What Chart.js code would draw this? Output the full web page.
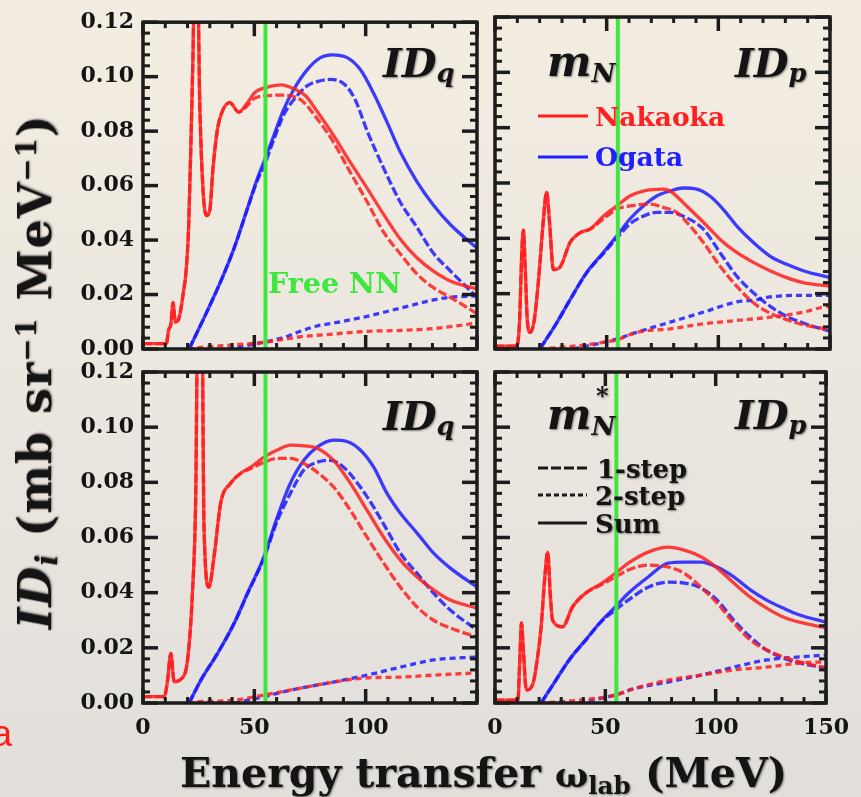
<!DOCTYPE html>
<html>
<head>
<meta charset="utf-8">
<script src="https://cdn.jsdelivr.net/npm/chart.js@4.4.1/dist/chart.umd.min.js"></script>
<style>
body { margin: 0; }
#page {
    position: relative; width: 861px; height: 797px; overflow: hidden;
    background: linear-gradient(#f3ede1, #ece7df 45%, #e2deda);
    font-family: 'DejaVu Serif', serif; font-weight: bold; color: #141414;
}
canvas { position: absolute; left: 0; top: 0; }
.t { position: absolute; white-space: nowrap; line-height: 1; text-shadow: 1px 1px 2px rgba(0,0,0,0.45); }
.sb { position: relative; font-size: 0.64em; top: 0.2em; font-style: italic; }
.up { position: relative; font-size: 0.6em; top: -0.55em; }
</style>
</head>
<body>
<div id="page">
    <canvas id="c1" width="861" height="797"></canvas>
    <canvas id="c2" width="861" height="797"></canvas>
    <canvas id="c3" width="861" height="797"></canvas>
    <canvas id="c4" width="861" height="797"></canvas>

    <div class="t" style="left:268px;top:269px;font-size:28.5px;color:#3ee63e;text-shadow:none">Free NN</div>

    <div class="t" style="left:383px;top:43px;font-size:40px"><i>ID</i><span class="sb">q</span></div>
    <div class="t" style="left:735px;top:43px;font-size:40px"><i>ID</i><span class="sb">p</span></div>
    <div class="t" style="left:383px;top:396px;font-size:40px"><i>ID</i><span class="sb">q</span></div>
    <div class="t" style="left:735px;top:395px;font-size:40px"><i>ID</i><span class="sb">p</span></div>

    <div class="t" style="left:547px;top:41px;font-size:42px"><i>m</i><span class="sb" style="font-size:0.62em;top:0.22em">N</span></div>
    <div class="t" style="left:547px;top:394px;font-size:42px"><i>m</i><span class="sb" style="font-size:0.62em;top:0.22em">N</span></div>
    <div class="t" style="left:596px;top:384px;font-size:24px">*</div>

    <div class="t" style="left:595px;top:104px;font-size:26.5px;color:#ff2020;text-shadow:none">Nakaoka</div>
    <div class="t" style="left:595px;top:144px;font-size:26.5px;color:#2020ff;text-shadow:none">Ogata</div>

    <div class="t" style="left:597px;top:456px;font-size:26px">1-step</div>
    <div class="t" style="left:595px;top:483px;font-size:26px">2-step</div>
    <div class="t" style="left:595px;top:511px;font-size:26px">Sum</div>

    <div class="t" style="left:35px;top:372px;font-size:46px;letter-spacing:1px;transform:translate(-50%,-50%) rotate(-90deg)"><i>ID</i><span class="sb">i</span> (mb sr<span class="up">−1</span> MeV<span class="up">−1</span>)</div>
    <div class="t" style="left:180px;top:753px;font-size:41px">Energy transfer <span style="font-size:0.85em">ω</span><span class="sb" style="font-style:normal;font-size:0.6em;top:0.3em">lab</span> (MeV)</div>

    <div class="t" style="left:-8px;top:716px;font-size:36px;font-family:'Liberation Sans',sans-serif;font-weight:normal;color:#ff1a1a;text-shadow:none">a</div>
</div>

<script>
// x: energy transfer (MeV), y: ID_i (mb sr^-1 MeV^-1)
const xMin = 0, xMax = 150;
const yMin = 0, yMax = 0.12;
const xTickStep = 50;
const yTickStep = 0.02;
const freeNN = 55;

// m_N, ID_q  (Nakaoka / Ogata : sum, 1-step, 2-step)
const qNakSum = [[0,0.002],[10.5,0.002],[11.5,0.007],[12.5,0.009],[13.5,0.017],[14.5,0.010],[16,0.011],[18,0.020],[19.5,0.030],[20.5,0.045],[21.5,0.075],[22.5,0.110],[23,0.135],[24.5,0.135],[25.5,0.090],[27,0.058],[28.5,0.049],[30,0.051],[31.5,0.067],[33.5,0.081],[36,0.088],[39,0.0905],[43,0.087],[47,0.0905],[50,0.094],[55,0.096],[62,0.097],[68,0.0955],[73,0.093],[78.4,0.087],[85.5,0.0785],[93,0.0687],[100.7,0.059],[108,0.0495],[115.5,0.0404],[123,0.0335],[130.3,0.0287],[138,0.025],[150,0.022]];
const qNakOne = [[0,0.002],[10.5,0.002],[11.5,0.007],[12.5,0.009],[13.5,0.017],[14.5,0.010],[16,0.011],[18,0.020],[19.5,0.030],[20.5,0.045],[21.5,0.075],[22.5,0.110],[23,0.135],[24.5,0.135],[25.5,0.090],[27,0.058],[28.5,0.049],[30,0.051],[31.5,0.067],[33.5,0.081],[36,0.088],[39,0.0905],[43,0.087],[47,0.0895],[50,0.092],[55,0.093],[62,0.0932],[70.7,0.0916],[78.4,0.0844],[85.5,0.076],[93,0.065],[100.7,0.054],[108,0.043],[115.5,0.035],[123,0.0276],[130.3,0.0226],[138,0.019],[150,0.013]];
const qNakTwo = [[20,0],[25,0.0005],[40,0.0015],[55,0.0025],[70.7,0.0045],[85.5,0.0055],[100.7,0.0065],[115.5,0.0068],[130.3,0.0075],[150,0.0095]];
const qOgaSum = [[20.7,0],[29,0.0142],[35,0.025],[40.9,0.037],[46.9,0.0517],[51.4,0.0627],[54.3,0.0687],[58.8,0.0785],[63.2,0.088],[67.7,0.0953],[73.8,0.1026],[79.7,0.107],[85,0.108],[91.7,0.107],[97.6,0.1026],[103.5,0.094],[109.6,0.0833],[115.5,0.0724],[123,0.0615],[130.3,0.053],[137.9,0.0458],[150,0.037]];
const qOgaOne = [[20.7,0],[29,0.0142],[35,0.025],[40.9,0.037],[46.9,0.0515],[51.4,0.062],[54.3,0.067],[58.8,0.077],[63.2,0.086],[67.7,0.0915],[73.8,0.0967],[79.7,0.0985],[84.5,0.099],[90.7,0.097],[95.2,0.0917],[100.7,0.080],[108,0.0665],[115.5,0.054],[123,0.0447],[130.3,0.0353],[138,0.0287],[150,0.019]];
const qOgaTwo = [[38,0],[54.3,0.0025],[63.2,0.0042],[70.7,0.0065],[78.4,0.0085],[85.5,0.0095],[100.7,0.012],[115.5,0.015],[130.3,0.018],[138,0.019],[150,0.0195]];

// m_N, ID_p
const pNakSum = [[0,0.001],[9.7,0.001],[11,0.010],[12,0.035],[12.7,0.043],[13.5,0.030],[14.5,0.010],[15.7,0.006],[17.5,0.010],[19.5,0.025],[21.5,0.045],[23.1,0.0567],[24.5,0.045],[26.1,0.0287],[29,0.0295],[33.6,0.0385],[38,0.042],[42.5,0.0433],[48.5,0.048],[54.5,0.0517],[60.4,0.0553],[66.4,0.0571],[75.4,0.0578],[78.4,0.0571],[85.8,0.0517],[93.3,0.0458],[100.7,0.0397],[108.2,0.0349],[115.7,0.0313],[123.1,0.0283],[130.6,0.0258],[138,0.024],[150,0.0227]];
const pNakOne = [[0,0.001],[9.7,0.001],[11,0.010],[12,0.035],[12.7,0.043],[13.5,0.030],[14.5,0.010],[15.7,0.006],[17.5,0.010],[19.5,0.025],[21.5,0.045],[23.1,0.0567],[24.5,0.045],[26.1,0.0287],[29,0.0295],[33.6,0.0385],[38,0.042],[42.5,0.0433],[48.5,0.047],[54.5,0.0505],[60.4,0.0517],[69.4,0.0524],[75.4,0.0512],[81.3,0.0494],[87.3,0.0445],[93.3,0.0385],[100.7,0.030],[108.2,0.0227],[115.7,0.0167],[123.1,0.013],[130.6,0.0106],[138,0.0088],[150,0.007]];
const pNakTwo = [[20,0],[35,0.001],[48.5,0.0024],[54.5,0.0033],[63.4,0.006],[78.4,0.0073],[93.3,0.0091],[108.2,0.0103],[123.1,0.0115],[138,0.0133],[147,0.0152],[150,0.0155]];
const pOgaSum = [[20.1,0],[27.6,0.0094],[33.6,0.0178],[41,0.0276],[48.5,0.0349],[54.5,0.0408],[60.4,0.047],[66.4,0.0517],[72.4,0.0553],[78.4,0.0571],[84.3,0.0582],[90.3,0.0578],[96.2,0.0553],[102.2,0.0505],[108.2,0.0445],[115.7,0.0385],[123.1,0.0336],[130.6,0.0306],[138,0.0283],[150,0.0258]];
const pOgaOne = [[20.1,0],[27.6,0.0094],[33.6,0.0178],[41,0.0275],[48.5,0.0345],[54.5,0.040],[60.4,0.0452],[66.4,0.048],[72.4,0.0494],[78.4,0.0494],[84.3,0.048],[93.3,0.0433],[100.7,0.0349],[108.2,0.0264],[115.7,0.0203],[123.1,0.0155],[130.6,0.0118],[138,0.0094],[150,0.0064]];
const pOgaTwo = [[35,0],[54.5,0.0036],[63.4,0.006],[78.4,0.0097],[93.3,0.0133],[108.2,0.017],[115.7,0.0176],[123.1,0.0188],[138,0.0194],[150,0.0194]];

// m*_N, ID_q
const qsNakSum = [[0,0.0023],[9.5,0.0023],[11,0.008],[12.5,0.018],[14,0.0077],[17.1,0.0087],[20,0.0156],[22.2,0.040],[23.7,0.076],[24.5,0.135],[26.5,0.135],[27.4,0.064],[29.6,0.042],[31.9,0.053],[34.9,0.0725],[39.4,0.0797],[43.9,0.0833],[48.4,0.0855],[54.3,0.0891],[60.3,0.0917],[66.2,0.0935],[73.7,0.0931],[78.2,0.0924],[85.6,0.088],[93.1,0.0797],[100.6,0.0699],[108.1,0.0601],[115.6,0.0518],[123.1,0.0457],[130.5,0.041],[138,0.0373],[150,0.0344]];
const qsNakOne = [[0,0.0023],[9.5,0.0023],[11,0.008],[12.5,0.018],[14,0.0077],[17.1,0.0087],[20,0.0156],[22.2,0.040],[23.7,0.076],[24.5,0.135],[26.5,0.135],[27.4,0.064],[29.6,0.042],[31.9,0.053],[34.9,0.0725],[39.4,0.0797],[43.9,0.0833],[48.4,0.085],[54.3,0.0873],[60.3,0.0887],[66.2,0.0887],[73.7,0.0862],[78.2,0.0837],[85.6,0.0783],[93.1,0.0699],[100.6,0.0601],[108.1,0.0507],[115.6,0.042],[123.1,0.0348],[130.5,0.030],[138,0.0272],[150,0.0239]];
const qsNakTwo = [[20,0],[25.6,0.0005],[40.5,0.001],[54.3,0.0029],[70.8,0.0054],[85.6,0.0076],[100.6,0.0091],[115.6,0.0094],[130.5,0.0101],[150,0.0109]];
const qsOgaSum = [[20.7,0],[26,0.0083],[33.5,0.018],[41,0.029],[46.9,0.0398],[54.3,0.053],[60.3,0.0674],[66.2,0.0797],[72.2,0.088],[78.2,0.0928],[85.6,0.0953],[91.6,0.0948],[97.6,0.0917],[103.6,0.0855],[109.6,0.076],[115.6,0.0688],[123.1,0.0616],[130.5,0.0543],[138,0.0489],[150,0.042]];
const qsOgaOne = [[20.7,0],[26,0.0083],[33.5,0.018],[41,0.029],[46.9,0.0396],[54.3,0.0525],[60.3,0.066],[66.2,0.076],[72.2,0.0844],[78.2,0.0873],[84.1,0.088],[90.1,0.0855],[97.6,0.0783],[103.6,0.071],[109.6,0.0627],[115.6,0.0543],[123.1,0.047],[130.5,0.0398],[138,0.0337],[150,0.0264]];
const qsOgaTwo = [[41,0],[54.3,0.0023],[63.3,0.0041],[70.8,0.0054],[85.6,0.0076],[100.6,0.0101],[115.6,0.013],[130.5,0.0156],[150,0.0167]];

// m*_N, ID_p
const psNakSum = [[0,0.001],[10.4,0.001],[11.2,0.015],[12,0.029],[12.8,0.020],[14.2,0.0047],[17.2,0.007],[19,0.015],[20.9,0.0276],[22.5,0.045],[23.9,0.0547],[25,0.040],[26.1,0.030],[30.6,0.0276],[35.1,0.0348],[41,0.0398],[48.5,0.0435],[54.5,0.047],[60.4,0.0507],[69.4,0.0547],[78.4,0.0565],[85.8,0.0554],[93.3,0.053],[100.7,0.0489],[108.2,0.0435],[115.7,0.0384],[123.1,0.0344],[130.6,0.0312],[138,0.0293],[150,0.0272]];
const psNakOne = [[0,0.001],[10.4,0.001],[11.2,0.015],[12,0.029],[12.8,0.020],[14.2,0.0047],[17.2,0.007],[19,0.015],[20.9,0.0276],[22.5,0.045],[23.9,0.0547],[25,0.040],[26.1,0.030],[30.6,0.0276],[35.1,0.0348],[41,0.0398],[48.5,0.043],[54.5,0.0457],[60.4,0.0482],[69.4,0.050],[78.4,0.0493],[85.8,0.047],[93.3,0.042],[100.7,0.0362],[108.2,0.029],[115.7,0.0228],[123.1,0.0192],[130.6,0.0167],[138,0.0149],[150,0.0127]];
const psNakTwo = [[20,0],[35,0.0008],[54.5,0.0029],[63.4,0.0053],[78.4,0.0083],[93.3,0.0101],[108.2,0.012],[123.1,0.013],[138,0.0145],[150,0.0149]];
const psOgaSum = [[20.9,0],[27.6,0.0083],[33.6,0.0156],[41,0.0228],[48.5,0.030],[54.5,0.0348],[60.4,0.0398],[69.4,0.0457],[78.4,0.0507],[85.8,0.0511],[93.3,0.0511],[100.7,0.0493],[108.2,0.0457],[115.7,0.041],[123.1,0.0373],[130.6,0.0344],[138,0.0319],[150,0.0293]];
const psOgaOne = [[20.9,0],[27.6,0.0083],[33.6,0.0156],[41,0.0227],[48.5,0.0298],[54.5,0.0337],[60.4,0.0373],[69.4,0.042],[78.4,0.0438],[85.8,0.0435],[93.3,0.0417],[100.7,0.0373],[108.2,0.030],[115.7,0.0239],[123.1,0.0192],[130.6,0.0163],[138,0.0145],[150,0.0127]];
const psOgaTwo = [[38,0],[54.5,0.0029],[63.4,0.0053],[78.4,0.0076],[93.3,0.0101],[108.2,0.013],[123.1,0.0156],[138,0.0167],[150,0.0174]];

const colNak = 'rgba(255,30,30,0.85)';
const colOga = 'rgba(28,28,255,0.85)';
const colFree = '#3ee63e';
const dashOne = [9, 3];
const dashTwo = [6, 4];

// panel boxes: [left, top, right, bottom] in page pixels
const panels = [
    { id: 'c1', box: [143, 17, 477, 349], showX: false, showY: true, nak: [qNakSum, qNakOne, qNakTwo], oga: [qOgaSum, qOgaOne, qOgaTwo], keys: [] },
    { id: 'c2', box: [495, 17, 830, 349], showX: false, showY: false, nak: [pNakSum, pNakOne, pNakTwo], oga: [pOgaSum, pOgaOne, pOgaTwo],
      keys: [{ x0: 538, x1: 588, y: 116, color: '#ff2020' }, { x0: 538, x1: 588, y: 157, color: '#2020ff' }] },
    { id: 'c3', box: [143, 372, 477, 703], showX: true, showY: true, hide150: true, nak: [qsNakSum, qsNakOne, qsNakTwo], oga: [qsOgaSum, qsOgaOne, qsOgaTwo], keys: [] },
    { id: 'c4', box: [495, 372, 830, 703], showX: true, showY: false, nak: [psNakSum, psNakOne, psNakTwo], oga: [psOgaSum, psOgaOne, psOgaTwo],
      keys: [{ x0: 538, x1: 587, y: 468, color: '#1a1a1a', dash: [10, 3] },
             { x0: 538, x1: 587, y: 495, color: '#1a1a1a', dash: [5, 3] },
             { x0: 538, x1: 587, y: 523, color: '#1a1a1a' }] },
];

// frame with inward ticks on all four sides, plus legend line samples
const frameTicks = {
    id: 'frameTicks',
    afterDraw(chart, args, opts) {
        const { ctx, chartArea: a } = chart;
        const xs = chart.scales.x, ys = chart.scales.y;
        const seg = (x0, y0, x1, y1) => { ctx.beginPath(); ctx.moveTo(x0, y0); ctx.lineTo(x1, y1); ctx.stroke(); };
        ctx.save();
        ctx.strokeStyle = '#1c1c1c';
        for (let v = xMin; v <= xMax; v += 10) {
            const px = xs.getPixelForValue(v);
            const major = v % 50 === 0;
            ctx.lineWidth = major ? 3.5 : 3;
            const len = major ? 14 : 6;
            seg(px, a.top, px, a.top + len);
            seg(px, a.bottom, px, a.bottom - len);
        }
        for (let i = 0; i <= 30; i++) {
            const py = ys.getPixelForValue(i * 0.004);
            const major = i % 5 === 0;
            ctx.lineWidth = major ? 3.5 : 3;
            const len = major ? 15 : 7;
            seg(a.left, py, a.left + len, py);
            seg(a.right, py, a.right - len, py);
        }
        ctx.lineWidth = 3.5;
        ctx.strokeRect(a.left, a.top, a.right - a.left, a.bottom - a.top);
        (opts.keys || []).forEach(k => {
            ctx.strokeStyle = k.color;
            ctx.lineWidth = 3;
            ctx.setLineDash(k.dash || []);
            seg(k.x0, k.y, k.x1, k.y);
        });
        ctx.restore();
    }
};

function makeSets(p) {
    const sets = [{ data: [[freeNN, yMin], [freeNN, yMax]], borderColor: colFree, borderWidth: 4 }];
    [[p.nak, colNak], [p.oga, colOga]].forEach(([s, c]) => {
        sets.push({ data: s[0], borderColor: c, borderWidth: 3.3 });
        sets.push({ data: s[1], borderColor: c, borderWidth: 3.3, borderDash: dashOne });
        sets.push({ data: s[2], borderColor: c, borderWidth: 3.3, borderDash: dashTwo });
    });
    return sets;
}

const tickFont = { family: 'DejaVu Serif', weight: 'bold', size: 22 };
const yAxisW = 80, xAxisH = 40;

panels.forEach(p => {
    const [l, t, r, b] = p.box;
    new Chart(document.getElementById(p.id), {
        type: 'line',
        data: { datasets: makeSets(p) },
        options: {
            responsive: false,
            animation: false,
            devicePixelRatio: 1,
            layout: {
                padding: {
                    left: p.showY ? l - yAxisW : l,
                    top: t,
                    right: 861 - r,
                    bottom: p.showX ? 797 - b - xAxisH : 797 - b,
                },
            },
            elements: {
                point: { radius: 0 },
                line: { cubicInterpolationMode: 'monotone', fill: false },
            },
            plugins: {
                legend: { display: false },
                tooltip: { enabled: false },
                frameTicks: { keys: p.keys },
            },
            scales: {
                x: {
                    type: 'linear', min: xMin, max: xMax,
                    grid: { display: false, drawTicks: false },
                    border: { display: false },
                    ticks: {
                        display: p.showX, stepSize: xTickStep, padding: 12, autoSkip: false, maxRotation: 0,
                        color: '#141414', font: tickFont,
                        callback: v => (p.hide150 && v === xMax) ? '' : String(v),
                    },
                    afterFit: s => { s.height = p.showX ? xAxisH : 0; },
                },
                y: {
                    type: 'linear', min: yMin, max: yMax,
                    grid: { display: false, drawTicks: false },
                    border: { display: false },
                    ticks: {
                        display: p.showY, stepSize: yTickStep, padding: 9, autoSkip: false,
                        color: '#141414', font: tickFont,
                        callback: v => Number(v).toFixed(2),
                    },
                    afterFit: s => { s.width = p.showY ? yAxisW : 0; },
                },
            },
        },
        plugins: [frameTicks],
    });
});
</script>
</body>
</html>
